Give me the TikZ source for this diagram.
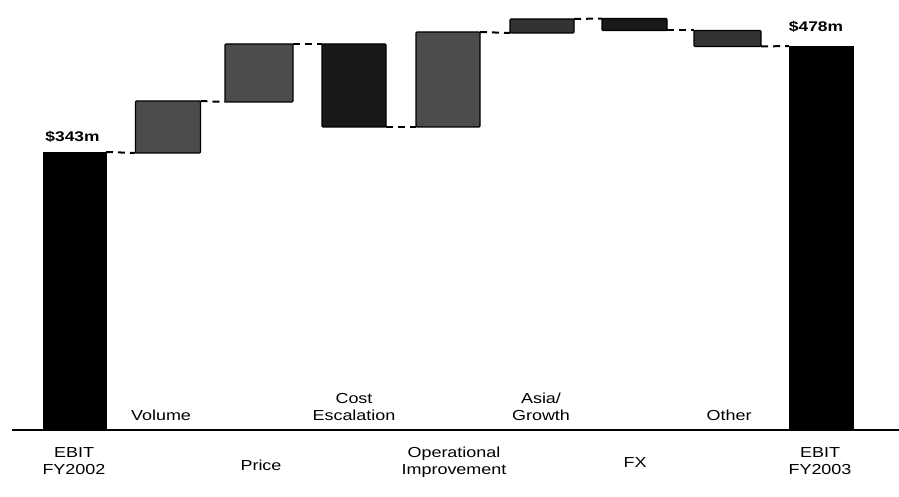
\documentclass[tikz,border=0pt]{standalone}
\usepackage{fontspec}
\setmainfont{Liberation Sans}[FakeStretch=1.24]
\begin{document}
\begin{tikzpicture}[x=1pt,y=-1pt,
  totalbar/.style={draw=black,fill=black,inner sep=0pt,outer sep=0pt},
  stepbar/.style={draw=black,line width=1.2pt,fill=black!70,inner sep=0pt,outer sep=0pt,rounded corners=1pt},
  darkbar/.style={stepbar,fill=black!90},
  midbar/.style={stepbar,fill=black!80},
  link/.style={dash pattern=on 7pt off 5pt,line width=2pt},
  lbl/.style={font=\fontsize{14.5}{17}\selectfont,align=center,inner sep=0pt},
  val/.style={font=\bfseries\fontsize{14}{16}\selectfont,inner sep=0pt}
]
\useasboundingbox (0,0) rectangle (899,497);
% bars (centre, width, height)
\node[totalbar,minimum width=63pt,minimum height=278pt] (e02) at (74.5,291) {};
\node[stepbar,minimum width=65pt,minimum height=52pt] (vol) at (168,127) {};
\node[stepbar,minimum width=68pt,minimum height=58pt] (pri) at (259,73) {};
\node[darkbar,minimum width=64pt,minimum height=83pt] (cost) at (354,85.5) {};
\node[stepbar,minimum width=64pt,minimum height=95pt] (op) at (448,79.5) {};
\node[midbar,minimum width=64pt,minimum height=14pt] (asia) at (542,26) {};
\node[darkbar,minimum width=65pt,minimum height=12pt] (fx) at (634.5,24.5) {};
\node[midbar,minimum width=67pt,minimum height=16pt] (oth) at (727.5,38.5) {};
\node[totalbar,minimum width=64pt,minimum height=384pt] (e03) at (821,238) {};
% baseline
\coordinate (bl) at (12,430);
\coordinate (br) at (899,430);
\draw[line width=2pt] (bl) -- (br);
% connectors
\draw[link] (e02.north east) -- (vol.south west);
\draw[link] (vol.north east) -- (pri.south west);
\draw[link] (pri.north east) -- (cost.north west);
\draw[link] (cost.south east) -- (op.south west);
\draw[link] (op.north east) -- (asia.south west);
\draw[link] (asia.north east) -- (fx.north west);
\draw[link] (fx.south east) -- (oth.north west);
\draw[link] (oth.south east) -- (e03.north west);
% values
\node[val,anchor=base] (v02) at (72.5,142) {\$343m};
\node[val,anchor=base] (v03) at (816,32) {\$478m};
% category labels
\node[lbl,anchor=south] (lvol) at (161,421) {Volume};
\node[lbl,anchor=south] (lcost) at (354,421) {Cost\\Escalation};
\node[lbl,anchor=south] (lasia) at (541,421) {Asia/\\Growth};
\node[lbl,anchor=south] (loth) at (729,421) {Other};
\node[lbl,anchor=north] (le02) at (74,447) {EBIT\\FY2002};
\node[lbl,anchor=north] (lpri) at (261,460) {Price};
\node[lbl,anchor=north] (lop) at (454,447) {Operational\\Improvement};
\node[lbl,anchor=north] (lfx) at (635,457) {FX};
\node[lbl,anchor=north] (le03) at (820,447) {EBIT\\FY2003};
\end{tikzpicture}
\end{document}
